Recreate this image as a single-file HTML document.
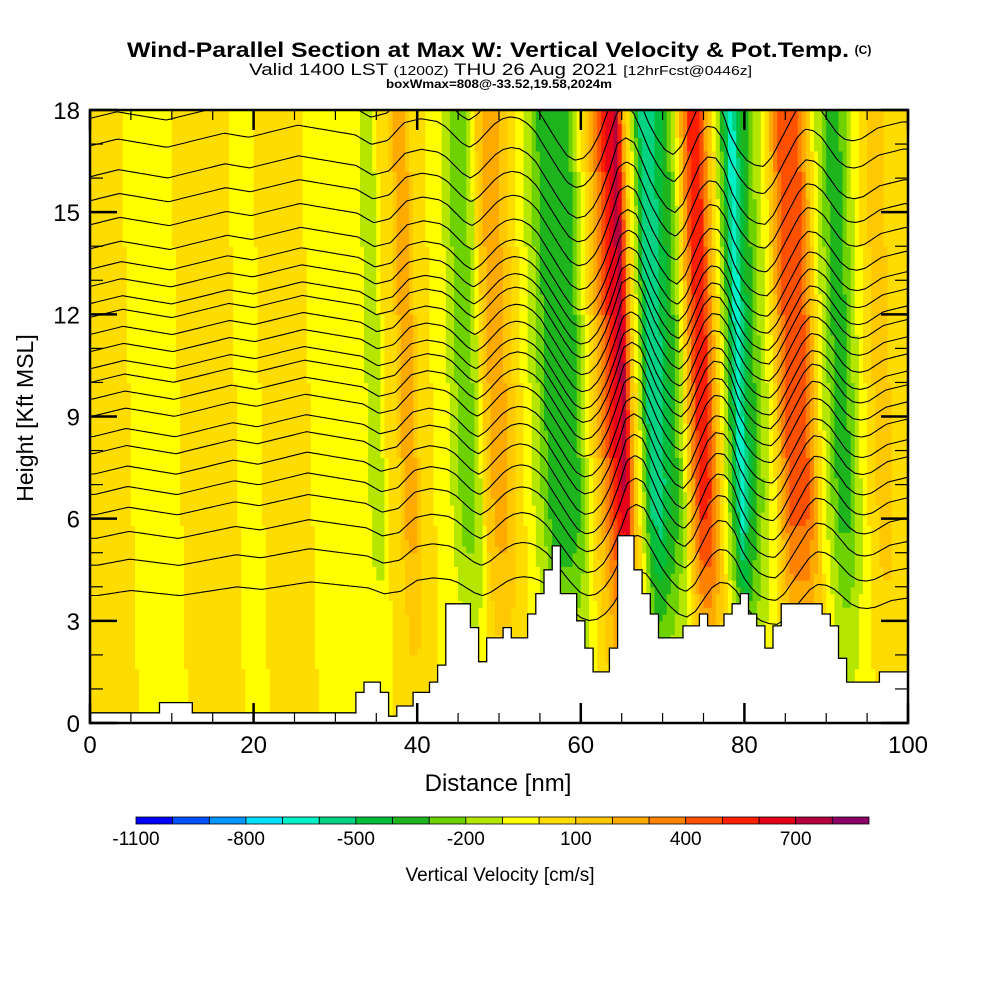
<!DOCTYPE html>
<html><head><meta charset="utf-8">
<style>
html,body{margin:0;padding:0;background:#fff;}
body{width:1000px;height:1000px;position:relative;overflow:hidden;font-family:"Liberation Sans",sans-serif;}
svg{position:absolute;left:0;top:0;}
</style></head>
<body>
<svg id="chart" width="1000" height="1000" viewBox="0 0 1000 1000">
  <defs><clipPath id="plotclip"><rect x="90" y="110" width="818" height="613"/></clipPath></defs>
  <g>
    <text x="127" y="57" font-size="21" font-weight="bold" fill="#000" textLength="722" lengthAdjust="spacingAndGlyphs">Wind-Parallel Section at Max W: Vertical Velocity &amp; Pot.Temp.</text>
    <text x="863" y="54" text-anchor="middle" font-size="12" font-weight="bold" fill="#000">(C)</text>
    <text x="249" y="75" font-size="17" fill="#000" textLength="503" lengthAdjust="spacingAndGlyphs">Valid 1400 LST <tspan font-size="13">(1200Z)</tspan> THU 26 Aug 2021 <tspan font-size="13">[12hrFcst@0446z]</tspan></text>
    <text x="386" y="88" font-size="12" font-weight="bold" fill="#000" textLength="226" lengthAdjust="spacingAndGlyphs">boxWmax=808@-33.52,19.58,2024m</text>
  </g>
  <g id="cells" clip-path="url(#plotclip)"></g>
  <g id="contours" clip-path="url(#plotclip)"></g>
  <g id="terrain" clip-path="url(#plotclip)"></g>
  <g id="axes"></g>
  <text x="498" y="791" text-anchor="middle" font-size="24" fill="#000">Distance [nm]</text>
  <text transform="translate(33,418) rotate(-90)" text-anchor="middle" font-size="23" fill="#000">Height [Kft MSL]</text>
  <g id="cbar"></g>
  <text x="500" y="881" text-anchor="middle" font-size="19" fill="#000">Vertical Velocity [cm/s]</text>
</svg>
<script>
// ---- data ----
const velocity = [50,50,50,50,50,-50,-50,-50,-50,-50,-50,50,50,50,50,50,50,50,-50,-50,-50,50,50,50,50,50,50,-50,-50,-50,-50,-50,-50,-50,
-150,-150,50,50,250,250,50,50,-50,-50,-150,-250,-250,-150,150,250,250,150,50,-50,-150,-250,-400,-400,-400,-350,-150,50,250,450,650,750,150,-150,-550,-600,-450,-350,-150,250,550,550,250,-50,-350,-700,-450,-300,-150,-50,250,450,450,450,250,-50,-200,-350,-350,-200,-50,50,150,150,50,50,50];
const terrain = [0.3,0.3,0.3,0.3,0.3,0.3,0.3,0.3,0.3,0.6,0.6,0.6,0.6,0.3,0.3,0.3,0.3,0.3,0.3,0.3,0.3,0.3,0.3,0.3,0.3,0.3,0.3,0.3,0.3,0.3,0.3,0.3,0.3,
0.9,1.2,1.2,0.9,0.2,0.5,0.5,0.9,0.9,1.2,1.7,3.5,3.5,3.5,2.8,1.8,2.5,2.5,2.8,2.5,2.5,3.2,3.8,4.5,5.2,3.8,3.8,3.0,2.2,1.5,1.5,2.2,5.5,5.5,4.5,3.8,3.2,2.5,2.5,2.5,2.85,2.85,3.2,2.85,2.85,3.2,3.5,3.8,3.2,2.85,2.2,2.85,3.5,3.5,3.5,3.5,3.5,3.2,2.85,1.9,1.2,1.2,1.2,1.2,1.5,1.5,1.5,1.5];
const contourLevels = [3.8,4.7,5.5,6.2,6.8,7.4,8.0,8.5,9.1,9.6,10.1,10.5,11.0,11.5,12.0,12.4,12.9,13.4,14.0,14.7,15.4,16.1,17.0,17.8];
const ampByHeight = [0.3,0.3,0.4,0.5,0.65,0.8,0.9,1,1,1,1,1,1,1,1,1,1,1,1];
const xTickLabels = ["0","20","40","60","80","100"];
const yTickLabels = ["0","3","6","9","12","15","18"];
const cbarLabels = ["-1100","-800","-500","-200","100","400","700"];
const cbarColors = ["#0000ff","#0050ff","#0096ff","#00e1ff","#00f0c8","#00d282","#00be3c","#1eb41e","#6ed200","#b4e600","#ffff00","#ffdc00","#ffc800","#ffaa00","#ff8200","#ff5000","#ff1e00","#e60019","#b4003c","#8c0064"];
const cbarMin = -1100, cbarStep = 100;

// ---- axes ----
const X0=90, X1=908, Y0=723, Y1=110, XMAX=100, YMAX=18;
const X = nm => X0 + nm*(X1-X0)/XMAX;
const Y = h => Y0 - h*(Y0-Y1)/YMAX;
const NS="http://www.w3.org/2000/svg";
function mk(tag, attrs, parent){const e=document.createElementNS(NS,tag);for(const k in attrs)e.setAttribute(k,attrs[k]);parent.appendChild(e);return e;}

const tilt = -0.12;
function amp(h){const i=Math.max(0,Math.min(17,Math.floor(h)));const f=Math.max(0,Math.min(1,h-i));return ampByHeight[i]*(1-f)+ampByHeight[i+1]*f;}
function interp(arr,p){p=Math.max(0,Math.min(arr.length-1,p));const i=Math.min(arr.length-2,Math.floor(p));const f=p-i;return arr[i]*(1-f)+arr[i+1]*f;}
function velAt(nm,h){return interp(velocity, nm - tilt*(h-12))*amp(h);}
function colorIdx(v){return Math.max(0,Math.min(cbarColors.length-1,Math.floor((v-cbarMin)/cbarStep)));}

// heatmap cells (merged vertically by colour)
const cells=document.getElementById('cells');
const NX=200, NY=90, dx=XMAX/NX, dh=YMAX/NY;
for(let ix=0; ix<NX; ix++){
  const nm=ix*dx;
  let runStart=0, runC=-1;
  for(let iy=0; iy<=NY; iy++){
    const h=iy*dh;
    const c = iy<NY ? colorIdx(velAt(nm+dx/2,h+dh/2)) : -2;
    if(c!==runC){
      if(runC>=0){
        const r=mk('rect',{x:X(nm).toFixed(2),y:Y(h).toFixed(2),width:(X(nm+dx)-X(nm)+0.6).toFixed(2),height:(Y(runStart)-Y(h)+0.6).toFixed(2),fill:cbarColors[runC]},cells);
        
        
      }
      runStart=h; runC=c;
    }
  }
}

// displacement from cumulative velocity
const mean = velocity.reduce((a,b)=>a+b,0)/velocity.length;
const eta=[]; let acc=0;
for(let i=0;i<velocity.length;i++){acc+=velocity[i]-mean;eta.push(acc*0.001);}
const etaMean = eta.reduce((a,b)=>a+b,0)/eta.length;
const contours=document.getElementById('contours');
contourLevels.forEach(L=>{
  let d='';
  for(let k=0; k<=400; k++){
    const nm=k*0.25;
    const h = L + amp(L)*(interp(eta, nm - tilt*(L-12)) - etaMean);
    d += (k===0?'M':'L')+X(nm).toFixed(1)+','+Y(h).toFixed(1);
  }
  const p=mk('path',{d:d,fill:'none',stroke:'#000','stroke-width':1.1},contours);
  
  
});

// terrain
const tg=document.getElementById('terrain');
let td='M'+X(0)+','+Y(0);
terrain.forEach((t,i)=>{const a=Math.max(0,i-0.5), b=Math.min(XMAX,i+0.5);td+='L'+X(a).toFixed(1)+','+Y(t).toFixed(1)+'L'+X(b).toFixed(1)+','+Y(t).toFixed(1);});
td+='L'+X(XMAX)+','+Y(0)+'Z';
const tp=mk('path',{d:td,fill:'#fff',stroke:'#000','stroke-width':1.3},tg);



// axes frame & ticks
const ax=document.getElementById('axes');
const fr=mk('rect',{x:X0,y:Y1,width:X1-X0,height:Y0-Y1,fill:'none',stroke:'#000','stroke-width':2.5},ax);


for(let nm=0;nm<=XMAX;nm+=5){
  const L = nm%20===0?20:10;
  mk('line',{x1:X(nm),x2:X(nm),y1:Y0,y2:Y0-L,stroke:'#000','stroke-width':nm%20===0?2.5:1.2},ax);
  mk('line',{x1:X(nm),x2:X(nm),y1:Y1,y2:Y1+L,stroke:'#000','stroke-width':nm%20===0?2.5:1.2},ax);
}
for(let h=0;h<=YMAX;h+=1){
  const L = h%3===0?27:13;
  mk('line',{x1:X0,x2:X0+L,y1:Y(h),y2:Y(h),stroke:'#000','stroke-width':h%3===0?2.5:1.2},ax);
  mk('line',{x1:X1,x2:X1-L,y1:Y(h),y2:Y(h),stroke:'#000','stroke-width':h%3===0?2.5:1.2},ax);
}
xTickLabels.forEach((s,i)=>{
  const t=mk('text',{x:X(i*20),y:753,'text-anchor':'middle','font-size':24,fill:'#000'},ax);t.textContent=s;
  
  
});
yTickLabels.forEach((s,i)=>{
  const t=mk('text',{x:80,y:Y(i*3)+9,'text-anchor':'end','font-size':24,fill:'#000'},ax);t.textContent=s;
  
  
});

// colorbar
const cb=document.getElementById('cbar');
const CB0=136, CB1=869, CBW=(CB1-CB0)/cbarColors.length;
cbarColors.forEach((c,i)=>{
  const r=mk('rect',{x:CB0+i*CBW,y:817,width:CBW,height:7,fill:c,stroke:'#000','stroke-width':0.8},cb);
  
  
});
cbarLabels.forEach((s,i)=>{
  const v=parseFloat(s);
  const t=mk('text',{x:CB0+(v-cbarMin)/cbarStep*CBW,y:845,'text-anchor':'middle','font-size':19,fill:'#000'},cb);t.textContent=s;
  
  
});
</script>
</body></html>
